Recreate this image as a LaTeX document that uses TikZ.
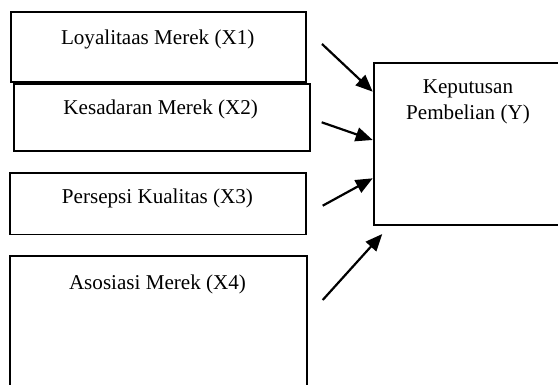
\documentclass[tikz,border=0pt]{standalone}
\usepackage{fontspec}
\setmainfont{Liberation Serif}
\usetikzlibrary{arrows.meta}
\begin{document}
\begin{tikzpicture}[x=1pt,y=-1pt,
  box/.style={draw=black,line width=1.8pt,inner sep=0pt,anchor=north west,rectangle},
  lbl/.style={anchor=base,inner sep=0pt,font=\fontsize{21.1}{26}\selectfont},
  arr/.style={line width=2.2pt,-{Triangle[length=17pt,width=14pt]}}]
\useasboundingbox (0,0) rectangle (558,385);
\clip (0,0) rectangle (558,385);
\fill[white] (0,0) rectangle (558,385);
% boxes
\node[box,minimum width=295.3pt,minimum height=69.5pt] (x1) at (10,11.3) {};
\node[box,minimum width=296pt,minimum height=67.1pt] (x2) at (12.7,83.2) {};
\node[box,minimum width=296pt,minimum height=61.5pt] (x3) at (9.3,172.2) {};
\node[box,minimum width=296.4pt,minimum height=164.5pt] (x4) at (9.3,255.5) {};
\node[box,minimum width=246.7pt,minimum height=161.7pt] (y) at (373.3,62.3) {};
% labels
\node[lbl] (t1) at (157.7,44.3) {Loyalitaas Merek (X1)};
\node[lbl] (t2) at (160.7,115) {Kesadaran Merek (X2)};
\node[lbl] (t3) at (157.5,203.3) {Persepsi Kualitas (X3)};
\node[lbl] (t4) at (157.5,289.3) {Asosiasi Merek (X4)};
\node[lbl] (ty1) at (468,93.3) {Keputusan};
\node[lbl] (ty2) at (468,120) {Pembelian (Y)};
% arrows
\coordinate (s1) at (322,44);
\coordinate (e1) at (372.7,91.7);
\coordinate (s2) at (321.7,122.3);
\coordinate (e2) at (372.7,140);
\coordinate (s3) at (322.7,205.7);
\coordinate (e3) at (372.7,178.3);
\coordinate (s4) at (322.7,300);
\coordinate (e4) at (382.3,234);
\draw[arr] (s1) -- (e1);
\draw[arr] (s2) -- (e2);
\draw[arr] (s3) -- (e3);
\draw[arr] (s4) -- (e4);
\end{tikzpicture}
\end{document}
